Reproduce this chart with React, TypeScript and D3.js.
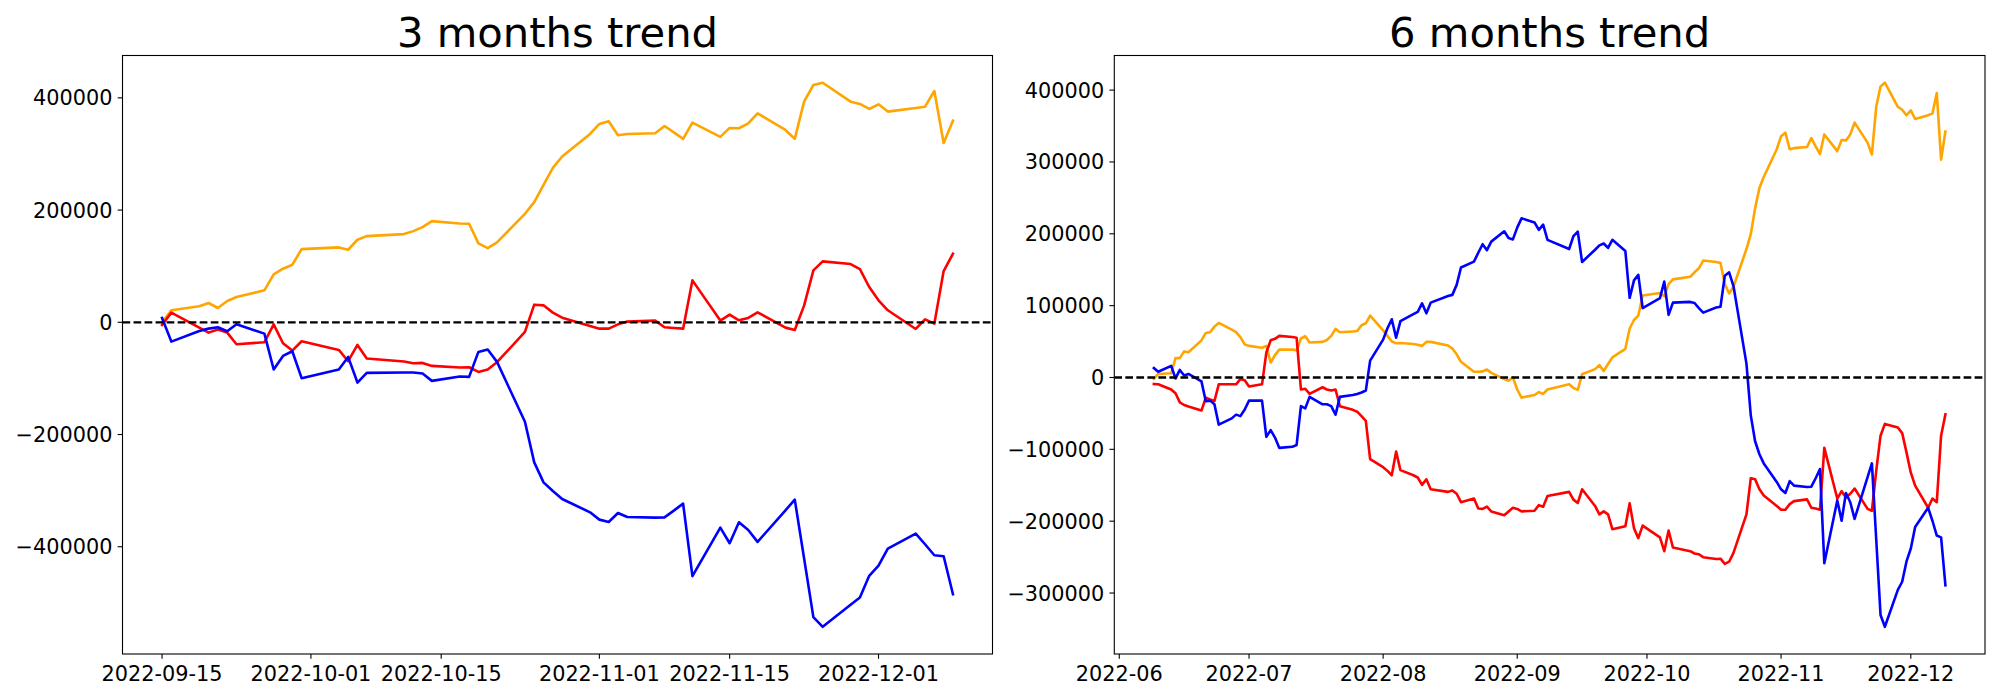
import React from "react";
import * as d3 from "d3";

// Korean exchange holidays inside the plotted period (weekdays without trading)
const KR_HOLIDAYS = ["2022-08-15", "2022-09-09", "2022-09-12", "2022-10-03", "2022-10-10"];
const START_6M = "2022-06-09";
const START_3M = "2022-09-15";
const END_DATE = "2022-12-09";

// ---- 3 months trend (Sep 15 .. Dec 9, 60 trading days)
const orange3 = [
  0, 21350, 28470, 34400, 25500, 37960, 45070, 56940, 85400, 95490, 102600, 130480,
  133450, 129300, 147100, 153600, 157170, 162500, 169600, 180300, 176150, 175560, 140560, 132260, 142300, 193350, 214100, 244950, 275200, 295400, 335700,
  353500, 358200, 333300, 335700, 336900, 349900, 338600, 326800, 355900, 330400, 346400, 345800, 354700, 372500, 342800, 326800, 393200, 422900, 427000, 393200, 389100, 380200,
  388500, 375500, 382000, 384300, 412200, 319700, 359400,
];
const red3 = [
  -4700, 17200, -9500, -18400, -13000, -18400, -39100, -35600, -3600, -37400, -50400, -33800,
  -49200, -69400, -40300, -64600, -70000, -72900, -72400, -77700, -80700, -80100, -88400, -84200, -71200, -17200, 31400, 30200, 17200, 8300, -6500,
  -11300, -11300, -3600, 1200, 3000, -8900, -10100, -11300, 74700, 3000, 13600, 3600, 7700, 17800, -9500, -13600, 29700, 92500, 108500, 103800, 94900, 62900,
  39100, 21400, -11900, 5300, -2400, 91300, 122200,
];
const blue3 = [
  7700, -34400, -15400, -11300, -8900, -16000, -3600, -20200, -84200, -59900, -51600, -99600,
  -84200, -61700, -107400, -90200, -89600, -89600, -91300, -104400, -96700, -97300, -52800, -48600, -70600, -177300, -249700, -285300, -300700, -314900, -338700,
  -351700, -355900, -339800, -347000, -348100, -347600, -335700, -323200, -452500, -365900, -393800, -356400, -370100, -391400, -335100, -316100, -420500, -525500, -542700, -503500, -490500, -451900,
  -433600, -403300, -376600, -395600, -415200, -417000, -484600,
];

// ---- 6 months trend (Jun 9 .. Dec 9, 127 trading days)
const orange6 = [
  -2000, 4900, 5900, 27000, 27000, 36300, 35200, 51700, 62000, 63000, 70800, 75900, 66600, 63000, 56300, 46000,
  44000, 41400, 44000, 20800, 31100, 38800, 38800, 37800, 54300, 57400, 48600, 49600, 52200, 57900, 67700, 63000, 64100, 64600, 72800, 75400, 86200,
  65600, 57900, 50200, 47600, 48100, 46600, 45500, 44000, 49600, 49600, 44500, 40400, 32200, 21900, 8000, 8000, 8500, 11100, 6400, -2300, -4400, 300,
  -16700, -28000, -24400, -20300, -22900, -16700, -9500, -14700, -17200, 4400, 11600, 17200, 9000, 18800, 28000, 39900, 68200, 80000, 86200, 114000,
  117600, 113000, 129900, 136600, 140200, 146400, 152000, 162800, 160800, 159200, 129900, 117000, 126300, 178800, 199400, 235400, 263700, 279100, 317700,
  335700, 340800, 317700, 319200, 320800, 333100, 321800, 311000, 338300, 315100, 330600, 330000, 338300, 354700, 326900, 310400, 376800, 405100, 410300, 376800, 372700, 365000,
  371700, 359800, 365000, 367600, 395900, 303300, 342400,
];
const red6 = [
  -9000, -9500, -16700, -21900, -34700, -38300, -40400, -46000, -28000, -30600, -32700, -9500, -9500, -9500, -2300, -3900,
  -12600, -9500, 34700, 51700, 53800, 57900, 56300, 55300, -16700, -15700, -22900, -13600, -16700, -18200, -16700, -39900, -45000, -47600, -53800, -60500, -113500,
  -124800, -130000, -136100, -103200, -128900, -136100, -139200, -149500, -141700, -155600, -159200, -157200, -161800, -173600, -168500, -182400, -182900, -179800, -186400, -191600, -186400, -181300,
  -182900, -186400, -185400, -177700, -179800, -164900, -159200, -170000, -174700, -155600, -178800, -190600, -186400, -190600, -211200, -207100, -175200, -209700, -223600, -206100,
  -222600, -241800, -213000, -236700, -241800, -245000, -246000, -250100, -252700, -252200, -259500, -256400, -244100, -190600, -140200, -141700, -155600, -164400, -178800,
  -184000, -184000, -176200, -172100, -169600, -181300, -182400, -184000, -98000, -168500, -158200, -167000, -161800, -154600, -182900, -185400, -129900, -81000, -64600, -69700, -77400, -104200,
  -132500, -150500, -181300, -168500, -173600, -81000, -51200,
];
const blue6 = [
  13100, 8000, 16200, -1300, 10500, 2800, 4900, -5400, -33200, -32200, -37300, -65600, -56900, -51700, -53800, -44500,
  -32200, -32200, -82600, -73300, -83600, -98000, -96500, -93900, -39900, -43000, -27000, -37300, -37300, -39900, -51700, -27000, -24400, -22900, -20800, -18200, 23400,
  52700, 68500, 81000, 55300, 78500, 88200, 91300, 103200, 89300, 104200, 113500, 115000, 128900, 153100, 161300, 173600, 185500, 177200, 189100, 203500, 194200, 192200,
  208600, 221500, 215800, 205500, 212700, 191600, 178800, 196800, 203000, 160800, 177800, 183900, 186500, 180300, 191600, 176200, 110900, 135100, 142800, 96500,
  110400, 133500, 87200, 104200, 105200, 103700, 96500, 90300, 97500, 98500, 141700, 146400, 127300, 19300, -52700, -88700, -106800, -119600, -145300,
  -155600, -160800, -144300, -150500, -152500, -152000, -140200, -127400, -258600, -171100, -199400, -160800, -173600, -196800, -138700, -119600, -225100, -330500, -347000, -295600, -284300, -256000,
  -238000, -208100, -181300, -199400, -220000, -222600, -289400,
];

const xTicks3 = ["2022-09-15", "2022-10-01", "2022-10-15", "2022-11-01", "2022-11-15", "2022-12-01"];
const xTicks6 = ["2022-06-01", "2022-07-01", "2022-08-01", "2022-09-01", "2022-10-01", "2022-11-01", "2022-12-01"];
const yTicks3 = [-400000, -200000, 0, 200000, 400000];
const yTicks6 = [-300000, -200000, -100000, 0, 100000, 200000, 300000, 400000];
const titles = ["3 months trend", "6 months trend"];
const colors = ["orange", "red", "blue"];

const parse = d3.utcParse("%Y-%m-%d");

function tradingDays(start: string, end: string): Date[] {
  const hol = new Set(KR_HOLIDAYS);
  const fmt = d3.utcFormat("%Y-%m-%d");
  return d3.utcDay
    .range(parse(start)!, d3.utcDay.offset(parse(end)!, 1))
    .filter((d) => d.getUTCDay() !== 0 && d.getUTCDay() !== 6 && !hol.has(fmt(d)));
}

const FONT = "DejaVu Sans";
const TICK_FS = 20.8;
const TITLE_FS = 41.7;
const TICK_LEN = 4.86;

type PanelProps = {
  title: string;
  dates: Date[];
  series: number[][];
  xTicks: string[];
  xFmt: string;
  yTicks: number[];
  x0: number;
  x1: number;
  y0: number;
  y1: number;
};

function fmtY(v: number) {
  return v < 0 ? "\u2212" + String(-v) : String(v);
}

function Panel({ title, dates, series, xTicks, xFmt, yTicks, x0, x1, y0, y1 }: PanelProps) {
  const [tMin, tMax] = d3.extent(dates) as [Date, Date];
  const span = +tMax - +tMin;
  const x = d3
    .scaleUtc()
    .domain([new Date(+tMin - span * 0.05), new Date(+tMax + span * 0.05)])
    .range([x0, x1]);
  const all = series.flat();
  const vMin = d3.min(all)!;
  const vMax = d3.max(all)!;
  const vPad = (vMax - vMin) * 0.05;
  const y = d3.scaleLinear().domain([vMin - vPad, vMax + vPad]).range([y1, y0]);
  const fx = d3.utcFormat(xFmt);
  const line = d3
    .line<number>()
    .x((_, i) => x(dates[i]))
    .y((v) => y(v));
  const cid = "clip-" + title.replace(/\s/g, "");

  return (
    <g>
      <text
        x={(x0 + x1) / 2}
        y={y0 - 8.8}
        textAnchor="middle"
        fontFamily={FONT}
        fontSize={TITLE_FS}
        fill="#000"
      >
        {title}
      </text>
      <defs>
        <clipPath id={cid}>
          <rect x={x0} y={y0} width={x1 - x0} height={y1 - y0} />
        </clipPath>
      </defs>
      <g clipPath={`url(#${cid})`}>
        {series.map((vals, k) => (
          <path
            key={k}
            d={line(vals) || ""}
            fill="none"
            stroke={colors[k]}
            strokeWidth={2.6}
            strokeLinejoin="round"
            strokeLinecap="square"
          />
        ))}
        <line
          x1={x0}
          x2={x1}
          y1={y(0)}
          y2={y(0)}
          stroke="#000"
          strokeWidth={2.3}
          strokeDasharray="7.7 3.33"
        />
      </g>
      <rect x={x0} y={y0} width={x1 - x0} height={y1 - y0} fill="none" stroke="#000" strokeWidth={1.1} />
      {xTicks.map((t) => {
        const px = x(parse(t)!);
        return (
          <g key={t}>
            <line x1={px} x2={px} y1={y1} y2={y1 + TICK_LEN} stroke="#000" strokeWidth={1.1} />
            <text x={px} y={680.7} textAnchor="middle" fontFamily={FONT} fontSize={TICK_FS} fill="#000">
              {fx(parse(t)!)}
            </text>
          </g>
        );
      })}
      {yTicks.map((v) => {
        const py = y(v);
        return (
          <g key={v}>
            <line x1={x0 - TICK_LEN} x2={x0} y1={py} y2={py} stroke="#000" strokeWidth={1.1} />
            <text
              x={x0 - TICK_LEN - 5.2}
              y={py}
              dy="0.36em"
              textAnchor="end"
              fontFamily={FONT}
              fontSize={TICK_FS}
              fill="#000"
            >
              {fmtY(v)}
            </text>
          </g>
        );
      })}
    </g>
  );
}

export default function App() {
  const dates6 = tradingDays(START_6M, END_DATE);
  const dates3 = tradingDays(START_3M, END_DATE);
  return (
    <svg
      width={2000}
      height={700}
      viewBox="0 0 2000 700"
      style={{ position: "absolute", left: 0, top: 0, background: "#fff" }}
    >
      <rect x={0} y={0} width={2000} height={700} fill="#fff" />
      <Panel
        title={titles[0]}
        dates={dates3}
        series={[orange3, red3, blue3]}
        xTicks={xTicks3}
        xFmt="%Y-%m-%d"
        yTicks={yTicks3}
        x0={122.5}
        x1={992.5}
        y0={55.5}
        y1={654}
      />
      <Panel
        title={titles[1]}
        dates={dates6}
        series={[orange6, red6, blue6]}
        xTicks={xTicks6}
        xFmt="%Y-%m"
        yTicks={yTicks6}
        x0={1114.3}
        x1={1985}
        y0={55.5}
        y1={654}
      />
    </svg>
  );
}
